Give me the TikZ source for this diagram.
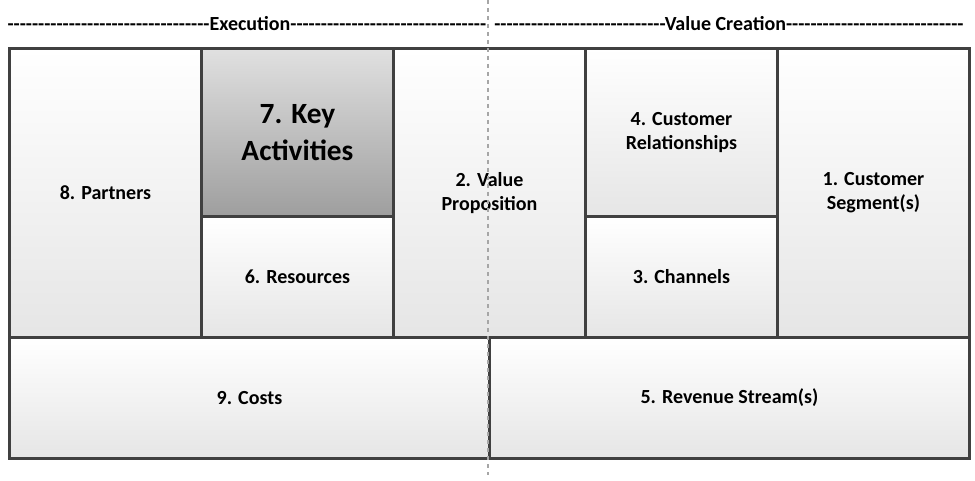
\documentclass[tikz,border=0pt]{standalone}
\usepackage{fontspec}
\setmainfont{Carlito}
\newcommand\mydashes[1]{\foreach\i in {1,...,#1}{-}}
\begin{document}
\begin{tikzpicture}[x=0.75pt,y=-0.75pt,
  cell/.style={draw=black!75,line width=2.2pt,top color=white,bottom color=black!10,align=center,font=\bfseries\fontsize{15}{18}\selectfont},
  hdr/.style={font=\bfseries\fontsize{15}{17}\selectfont,inner sep=0pt}]
\useasboundingbox (0,0) rectangle (975,481);
\node[cell,minimum width=192*0.75pt,minimum height=289*0.75pt,anchor=north west] (p) at (8,47) {8. Partners};
\node[cell,minimum width=192*0.75pt,minimum height=168*0.75pt,anchor=north west,top color=black!12,bottom color=black!38,font=\bfseries\fontsize{22}{28}\selectfont] (ka) at (200,47) {7. Key\\Activities};
\node[cell,minimum width=192*0.75pt,minimum height=121*0.75pt,anchor=north west] (r) at (200,215) {6. Resources};
\node[cell,minimum width=192*0.75pt,minimum height=289*0.75pt,anchor=north west] (vp) at (392,47) {2. Value\\Proposition};
\node[cell,minimum width=192*0.75pt,minimum height=168*0.75pt,anchor=north west] (cr) at (584,47) {4. Customer\\Relationships};
\node[cell,minimum width=192*0.75pt,minimum height=121*0.75pt,anchor=north west] (ch) at (584,215) {3. Channels};
\node[cell,minimum width=192*0.75pt,minimum height=289*0.75pt,anchor=north west] (cs) at (776,47) {1. Customer\\Segment(s)};
\node[cell,minimum width=480*0.75pt,minimum height=121*0.75pt,anchor=north west] (c) at (8,336) {9. Costs};
\node[cell,minimum width=480*0.75pt,minimum height=121*0.75pt,anchor=north west] (rs) at (488,336) {5. Revenue Stream(s)};
\draw[black!35,dashed,line width=1pt] (488,0) -- (488,475);
\node[hdr] (h1) at (247,24) {\mydashes{33}Execution\mydashes{32}};
\node[hdr] (h2) at (729,24) {\mydashes{28}Value Creation\mydashes{29}};
\end{tikzpicture}
\end{document}
